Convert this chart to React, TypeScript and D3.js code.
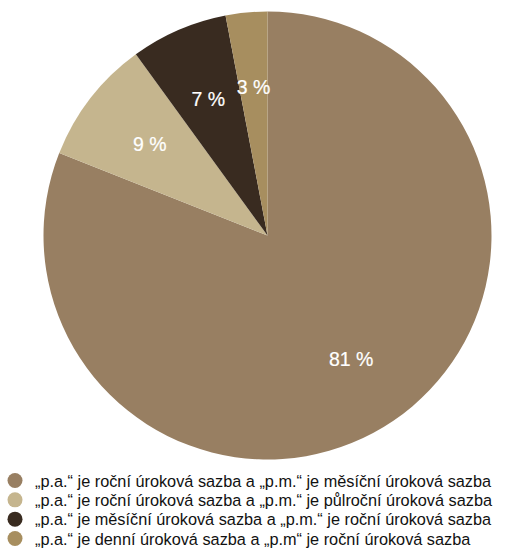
import React from "react";
import * as d3 from "d3";

const labels = [
  "„p.a.“ je roční úroková sazba a „p.m.“ je měsíční úroková sazba",
  "„p.a.“ je roční úroková sazba a „p.m.“ je půlroční úroková sazba",
  "„p.a.“ je měsíční úroková sazba a „p.m.“ je roční úroková sazba",
  "„p.a.“ je denní úroková sazba a „p.m“ je roční úroková sazba",
];
const values = [81, 9, 7, 3];
const colors = ["#987f62", "#c5b58e", "#392b20", "#a78e5f"];

const W = 524;
const H = 550;
const cx = 267.5;
const cy = 235.5;
const R = 224;

export default function App() {
  const pie = d3.pie<number>().sort(null).value((d) => d)(values);
  const arc = d3.arc<d3.PieArcDatum<number>>().innerRadius(0).outerRadius(R);
  const labelArc = d3
    .arc<d3.PieArcDatum<number>>()
    .innerRadius(R * 0.665)
    .outerRadius(R * 0.665);
  const legendY = d3.scaleLinear().domain([0, 3]).range([480.5, 538.5]);
  return (
    <svg
      width={W}
      height={H}
      style={{ position: "absolute", left: 0, top: 0, fontFamily: "Liberation Sans, Arial, sans-serif" }}
    >
      <g transform={`translate(${cx},${cy})`}>
        {pie.map((p, i) => (
          <path key={i} d={arc(p) || ""} fill={colors[i]} />
        ))}
        {pie.map((p, i) => {
          const [x, y] = labelArc.centroid(p);
          return (
            <text
              key={i}
              x={x}
              y={y}
              textAnchor="middle"
              dominantBaseline="central"
              fill="#ffffff"
              stroke="#ffffff"
              strokeWidth={0.2}
              fontSize={19.5}
            >
              {values[i]} %
            </text>
          );
        })}
      </g>
      {labels.map((l, i) => (
        <g key={i}>
          <circle cx={15} cy={legendY(i)} r={7.5} fill={colors[i]} />
          <text x={35} y={legendY(i)} dominantBaseline="central" fontSize={16.3} fill="#111">
            {l}
          </text>
        </g>
      ))}
    </svg>
  );
}
